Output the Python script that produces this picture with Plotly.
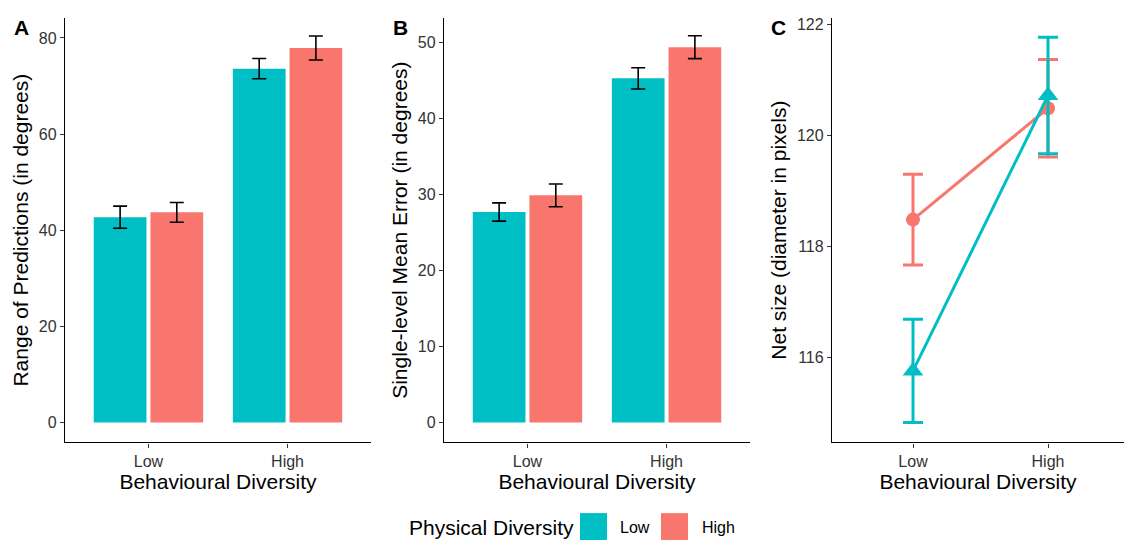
import plotly.graph_objects as go

# ---------------- data ----------------
behav = ["Low", "High"]                 # Behavioural Diversity categories
phys_names = ["Low", "High"]            # Physical Diversity levels
colors = {"Low": "#00BFC4", "High": "#F8766D"}

# Panel A: Range of Predictions (in degrees)
rangeA_low = [42.7, 73.6]
rangeA_low_se = [2.3, 2.1]
rangeA_high = [43.7, 77.9]
rangeA_high_se = [2.05, 2.5]

# Panel B: Single-level Mean Error (in degrees)
errB_low = [27.7, 45.3]
errB_low_se = [1.2, 1.4]
errB_high = [29.9, 49.4]
errB_high_se = [1.5, 1.5]

# Panel C: Net size (diameter in pixels)
netC_low = [115.75, 120.72]
netC_low_se = [0.93, 1.05]
netC_high = [118.48, 120.49]
netC_high_se = [0.82, 0.88]

W, H = 1124, 540
FONT = "Liberation Sans, Arial, sans-serif"
TICK_COL = "#333333"

def px(x):
    return x / W

def py(y):
    return 1 - y / H

fig = go.Figure()

# ---------- Panel A ----------
for name, vals, se in [("Low", rangeA_low, rangeA_low_se), ("High", rangeA_high, rangeA_high_se)]:
    fig.add_trace(go.Bar(
        x=behav, y=vals, name=name, marker=dict(color=colors[name], line=dict(width=0)),
        error_y=dict(type="data", array=se, color="black", thickness=1.6, width=7),
        xaxis="x", yaxis="y", showlegend=False, offsetgroup=name))

# ---------- Panel B ----------
for name, vals, se in [("Low", errB_low, errB_low_se), ("High", errB_high, errB_high_se)]:
    fig.add_trace(go.Bar(
        x=behav, y=vals, name=name, marker=dict(color=colors[name], line=dict(width=0)),
        error_y=dict(type="data", array=se, color="black", thickness=1.6, width=7),
        xaxis="x2", yaxis="y2", showlegend=False, offsetgroup=name))

# ---------- Panel C ----------
for name, vals, se, sym, size in [("High", netC_high, netC_high_se, "circle", 14),
                                  ("Low", netC_low, netC_low_se, "triangle-up", 18)]:
    fig.add_trace(go.Scatter(
        x=behav, y=vals, name=name, mode="lines+markers",
        line=dict(color=colors[name], width=3),
        marker=dict(color=colors[name], symbol=sym, size=size),
        error_y=dict(type="data", array=se, color=colors[name], thickness=3, width=10),
        xaxis="x3", yaxis="y3", showlegend=False))

ydom = [py(442), py(16)]
axis_common = dict(showline=True, linecolor="black", linewidth=1.3, ticks="outside",
                   ticklen=4, tickcolor=TICK_COL, showgrid=False, zeroline=False,
                   tickfont=dict(family=FONT, size=16, color=TICK_COL))
TFONT = dict(family=FONT, size=21, color="black")
xtitle = dict(text="Behavioural Diversity", font=TFONT, standoff=2)

fig.update_layout(
    width=W, height=H, margin=dict(l=0, r=0, t=0, b=0),
    paper_bgcolor="white", plot_bgcolor="white",
    barmode="group", bargap=0.185, bargroupgap=0.07,
    font=dict(family=FONT),
    xaxis=dict(domain=[px(65), px(371)], anchor="y", type="category", range=[-0.6, 1.6],
               title=xtitle, **axis_common),
    yaxis=dict(domain=ydom, anchor="x", range=[-4.15, 84.15], tickvals=[0, 20, 40, 60, 80],
               title=dict(text="Range of Predictions (in degrees)", font=TFONT, standoff=4),
               **axis_common),
    xaxis2=dict(domain=[px(444), px(750)], anchor="y2", type="category", range=[-0.6, 1.6],
                title=xtitle, **axis_common),
    yaxis2=dict(domain=ydom, anchor="x2", range=[-2.62, 53.25], tickvals=[0, 10, 20, 30, 40, 50],
                title=dict(text="Single-level Mean Error (in degrees)", font=TFONT, standoff=4),
                **axis_common),
    xaxis3=dict(domain=[px(832), 1.0], anchor="y3", type="category", range=[-0.6, 1.563],
                title=xtitle, **axis_common),
    yaxis3=dict(domain=ydom, anchor="x3", range=[114.46, 122.12], tickvals=[116, 118, 120, 122],
                title=dict(text="Net size (diameter in pixels)", font=TFONT, standoff=4),
                **axis_common),
)

# panel letters
for letter, x in [("A", 21), ("B", 400), ("C", 778)]:
    fig.add_annotation(text="<b>%s</b>" % letter, x=px(x), y=py(26), xref="paper", yref="paper",
                       showarrow=False, font=dict(family=FONT, size=21, color="black"),
                       xanchor="center", yanchor="middle")

# manual legend (bottom centre)
fig.add_annotation(text="Physical Diversity", x=px(407), y=py(527), xref="paper", yref="paper",
                   showarrow=False, xanchor="left", yanchor="middle",
                   font=dict(family=FONT, size=21, color="black"))
for name, x0, tx in [("Low", 580, 618), ("High", 661, 700)]:
    fig.add_shape(type="rect", xref="paper", yref="paper",
                  x0=px(x0), x1=px(x0 + 27), y0=py(540), y1=py(513),
                  fillcolor=colors[name], line=dict(width=0))
    fig.add_annotation(text=name, x=px(tx), y=py(527), xref="paper", yref="paper",
                       showarrow=False, xanchor="left", yanchor="middle",
                       font=dict(family=FONT, size=16, color="black"))

fig.write_html("out.html", config={"displayModeBar": False},
               post_script="document.body.style.margin='0';document.body.style.overflow='hidden';")
